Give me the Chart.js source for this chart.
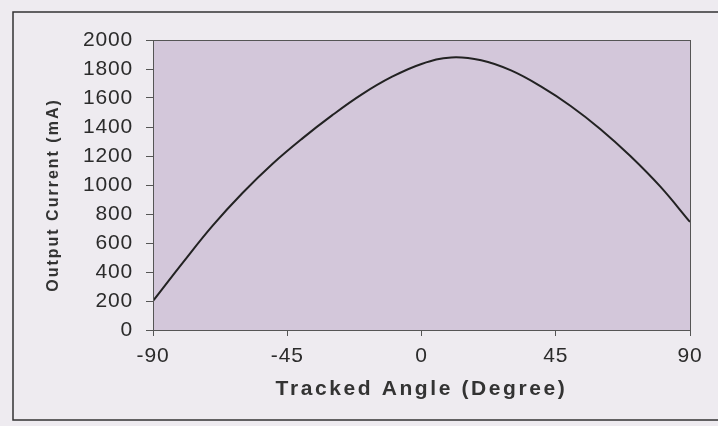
<!DOCTYPE html>
<html>
<head>
<meta charset="utf-8">
<script src="https://cdn.jsdelivr.net/npm/chart.js@4"></script>
<style>
  html, body { margin: 0; padding: 0; background: #eeebf0; }
  #wrap { width: 718px; height: 426px; }
</style>
</head>
<body>
<div id="wrap"><canvas id="currentChart" width="718" height="426"></canvas></div>
<script>
// tracked angle (degree) and measured output current (mA)
const angles = [-90, -80, -70, -60, -50, -40, -30, -20, -10, 0, 10, 20, 30, 40, 50, 60, 70, 80, 90];
const currents = [200, 465, 720, 945, 1145, 1320, 1480, 1625, 1745, 1835, 1880, 1860, 1790, 1680, 1545, 1385, 1200, 990, 745];
const xTicks = [-90, -45, 0, 45, 90];
const yTicks = [0, 200, 400, 600, 800, 1000, 1200, 1400, 1600, 1800, 2000];

const points = angles.map(function(a, i) {
    return { x: a, y: currents[i] };
});

// axis titles in the scan are widely spaced, tick labels are not
function spacedTitle(spacing, shiftY) {
    return function(scale) {
        if (scale._spacedTitle) return;
        const orig = scale.drawTitle;
        scale.drawTitle = function() {
            const ctx = this.ctx;
            ctx.save();
            ctx.letterSpacing = spacing;
            ctx.translate(0, shiftY);
            orig.call(this);
            ctx.restore();
        };
        scale._spacedTitle = true;
    };
}

// shaded plot area + frame round the whole figure
const framePlugin = {
    id: 'frame',
    beforeDraw: function(chart) {
        chart.ctx.letterSpacing = '0.8px';
    },
    beforeDatasetsDraw: function(chart) {
        const ctx = chart.ctx;
        const a = chart.chartArea;
        ctx.save();
        ctx.fillStyle = '#d3c7da';
        ctx.fillRect(a.left, a.top, a.right - a.left, a.bottom - a.top);
        ctx.restore();
    },
    afterDraw: function(chart) {
        const ctx = chart.ctx;
        const a = chart.chartArea;
        ctx.save();
        ctx.strokeStyle = '#555';
        ctx.lineWidth = 1;
        ctx.strokeRect(a.left + 0.5, a.top + 0.5, a.right - a.left, a.bottom - a.top);
        ctx.strokeStyle = '#333';
        ctx.lineWidth = 1.5;
        ctx.strokeRect(13, 12, 720, 408);
        ctx.restore();
        ctx.letterSpacing = '0px';
    }
};

new Chart(document.getElementById('currentChart').getContext('2d'), {
    type: 'scatter',
    data: {
        datasets: [{
            label: 'Output Current',
            data: points,
            showLine: true,
            borderColor: '#222',
            borderWidth: 2,
            pointRadius: 0,
            tension: 0.4
        }]
    },
    options: {
        responsive: false,
        animation: false,
        layout: { padding: { left: 0, top: 40, right: 28, bottom: 0 } },
        plugins: {
            legend: { display: false },
            tooltip: { enabled: false }
        },
        scales: {
            x: {
                type: 'linear',
                min: -90,
                max: 90,
                afterBuildTicks: function(scale) {
                    scale.ticks = xTicks.map(function(v) { return { value: v }; });
                },
                afterFit: function(scale) { scale.height = 96; },
                afterUpdate: spacedTitle('2.6px', 0),
                grid: { drawOnChartArea: false, tickLength: 6, color: '#555' },
                border: { color: '#555' },
                ticks: {
                    color: '#2b2b2b',
                    padding: 8,
                    maxRotation: 0,
                    font: { family: 'Liberation Sans', size: 21 },
                    callback: function(v) { return String(v); }
                },
                title: {
                    display: true,
                    text: 'Tracked Angle (Degree)',
                    color: '#333',
                    padding: { top: 0, bottom: 24 },
                    font: { family: 'Liberation Sans', size: 21, weight: 'bold' }
                }
            },
            y: {
                min: 0,
                max: 2000,
                afterBuildTicks: function(scale) {
                    scale.ticks = yTicks.map(function(v) { return { value: v }; });
                },
                afterFit: function(scale) { scale.width = 153; },
                afterUpdate: spacedTitle('2px', 10),
                grid: { drawOnChartArea: false, tickLength: 7, color: '#555' },
                border: { color: '#555' },
                ticks: {
                    color: '#2b2b2b',
                    padding: 13,
                    font: { family: 'Liberation Sans', size: 21 },
                    callback: function(v) { return String(v); }
                },
                title: {
                    display: true,
                    text: 'Output Current (mA)',
                    color: '#333',
                    padding: { top: 44, bottom: 0 },
                    font: { family: 'Liberation Sans', size: 16, weight: 'bold' }
                }
            }
        }
    },
    plugins: [framePlugin]
});
</script>
</body>
</html>
